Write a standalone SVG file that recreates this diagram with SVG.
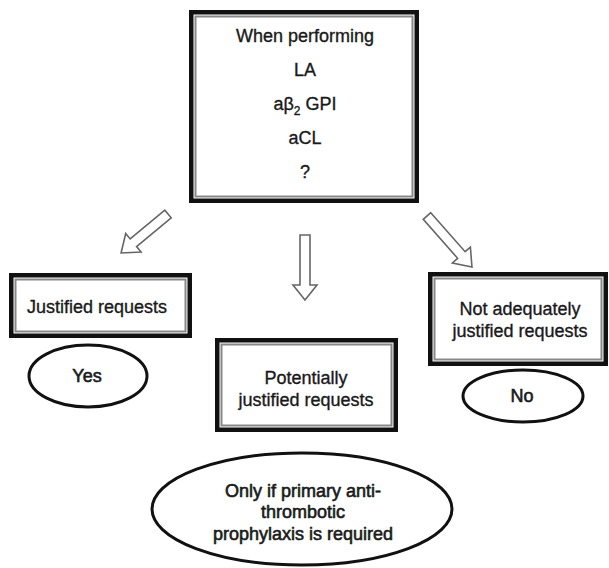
<svg xmlns="http://www.w3.org/2000/svg" width="609" height="568" viewBox="0 0 609 568">
<style>
.outer{fill:#fff;stroke:#111;stroke-width:4.5}
.inner{fill:none;stroke:#888;stroke-width:2}
.ell{fill:#fff;stroke:#111;stroke-width:3}
.arr{fill:#fff;stroke:#666;stroke-width:1.6;stroke-linejoin:miter}
text{font-family:"Liberation Sans",Arial,sans-serif;font-size:18px;fill:#1a1a1a;stroke:#1a1a1a;stroke-width:0.35;text-anchor:middle}
.b{stroke-width:0.6}
</style>
<rect width="609" height="568" fill="#fff"/>
<g id="connectors">
<path class="arr" transform="translate(168,214) rotate(140.3)" d="M0,-5 L45,-5 L45,-12 L61,0 L45,12 L45,5 L0,5 Z"/>
<path class="arr" transform="translate(305,235) rotate(90)" d="M0,-5 L50,-5 L50,-12 L65,0 L50,12 L50,5 L0,5 Z"/>
<path class="arr" transform="translate(427,216) rotate(48.6)" d="M0,-5 L52,-5 L52,-12 L68,0 L52,12 L52,5 L0,5 Z"/>
</g>
<g id="top">
<rect class="outer" x="191.25" y="12.25" width="225.5" height="188.5"/>
<rect class="inner" x="195.5" y="16.5" width="217" height="180"/>
<text x="305" y="42">When performing</text>
<text x="305" y="76">LA</text>
<text x="305" y="110">aβ<tspan font-size="12" dy="5">2</tspan><tspan dy="-5"> GPI</tspan></text>
<text x="305" y="144">aCL</text>
<text x="305" y="178">?</text>
</g>
<g id="justified">
<rect class="outer" x="11.25" y="275.25" width="178.5" height="60.5"/>
<rect class="inner" x="15.5" y="279.5" width="170" height="52"/>
<text x="97" y="313">Justified requests</text>
</g>
<g id="yes">
<ellipse class="ell" cx="88" cy="376" rx="59" ry="31"/>
<text class="b" x="87" y="382">Yes</text>
</g>
<g id="potentially">
<rect class="outer" x="217.25" y="340.25" width="178.5" height="89.5"/>
<rect class="inner" x="221.5" y="344.5" width="170" height="81"/>
<text x="306" y="384">Potentially</text>
<text x="306" y="406">justified requests</text>
</g>
<g id="notadequately">
<rect class="outer" x="430.25" y="274.25" width="175.5" height="89.5"/>
<rect class="inner" x="434.5" y="278.5" width="167" height="81"/>
<text x="520" y="315">Not adequately</text>
<text x="520" y="337">justified requests</text>
</g>
<g id="no">
<ellipse class="ell" cx="523" cy="396" rx="60" ry="26"/>
<text class="b" x="522" y="402">No</text>
</g>
<g id="only">
<ellipse class="ell" cx="302" cy="509" rx="150" ry="56"/>
<text class="b" x="303" y="497">Only if primary anti-</text>
<text class="b" x="303" y="518">thrombotic</text>
<text class="b" x="303" y="540">prophylaxis is required</text>
</g>
</svg>
